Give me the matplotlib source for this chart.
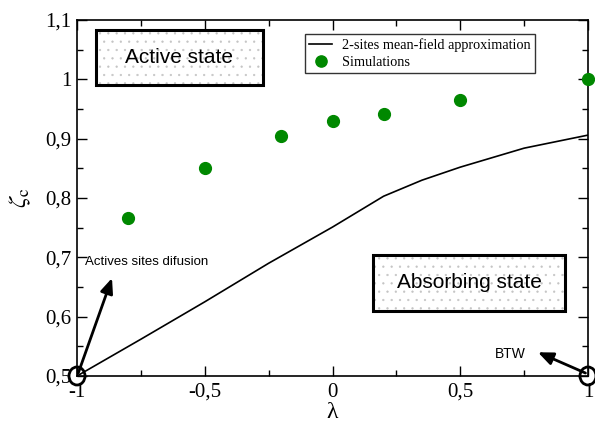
import matplotlib
matplotlib.use("Agg")
import matplotlib.pyplot as plt
from matplotlib.ticker import MultipleLocator, FuncFormatter
from matplotlib.patches import Ellipse, Rectangle

# data
mf_lambda = [-1.0, -0.75, -0.5, -0.25, 0.0, 0.2, 0.35, 0.5, 0.75, 1.0]
mf_zeta = [0.50, 0.562, 0.625, 0.690, 0.751, 0.803, 0.830, 0.852, 0.884, 0.906]
sim_lambda = [-0.8, -0.5, -0.2, 0.0, 0.2, 0.5, 1.0]
sim_zeta = [0.766, 0.851, 0.905, 0.930, 0.942, 0.965, 1.0]

plt.rcParams["mathtext.fontset"] = "stix"
plt.rcParams["hatch.linewidth"] = 0.4

serif = ["Liberation Serif", "DejaVu Serif"]
sans = ["Liberation Sans", "DejaVu Sans"]

fig = plt.figure(figsize=(5.95, 4.25), dpi=100)
ax = fig.add_axes([77/595, 1-376/425, (588-77)/595, (376-20)/425])

ax.plot(mf_lambda, mf_zeta, color="black", lw=1.2, label="2-sites mean-field approximation")
ax.plot(sim_lambda, sim_zeta, "o", color="#008800", ms=8.5, clip_on=False, label="Simulations", zorder=4)

ax.set_xlim(-1, 1)
ax.set_ylim(0.5, 1.1)
ax.xaxis.set_major_locator(MultipleLocator(0.5))
ax.xaxis.set_minor_locator(MultipleLocator(0.25))
ax.yaxis.set_major_locator(MultipleLocator(0.1))
ax.yaxis.set_minor_locator(MultipleLocator(0.05))

def fmt(v, pos):
    s = ("%.2f" % v).rstrip("0").rstrip(".")
    if s == "-0":
        s = "0"
    return s.replace(".", ",")
ax.xaxis.set_major_formatter(FuncFormatter(fmt))
ax.yaxis.set_major_formatter(FuncFormatter(fmt))

ax.tick_params(which="both", direction="in", top=True, right=True, width=1)
ax.tick_params(which="major", length=7, labelsize=15)
ax.tick_params(axis="x", which="major", pad=5)
ax.tick_params(axis="y", which="major", pad=4)
ax.tick_params(which="minor", length=4)
for lab in ax.get_xticklabels() + ax.get_yticklabels():
    lab.set_family(serif)
for sp in ax.spines.values():
    sp.set_linewidth(1.2)

ax.set_xlabel("λ", fontsize=17, family=serif, labelpad=0)
ax.set_ylabel(r"$\zeta_\mathrm{c}$", fontsize=18, labelpad=9)

leg = ax.legend(loc="upper left", bbox_to_anchor=((305-77)/511, (376-34)/356),
                prop={"family": serif, "size": 10.3}, frameon=True, fancybox=False,
                edgecolor="black", handlelength=1.6, borderpad=0.3, labelspacing=0.25,
                handletextpad=0.7, markerscale=0.95, borderaxespad=0)
leg.get_frame().set_linewidth(1.0)

def state_box(x0, x1, y0, y1, label):
    ax.add_patch(Rectangle((x0, y0), x1 - x0, y1 - y0, facecolor="white",
                           edgecolor="#c4c4c4", lw=0, hatch="..", zorder=5, clip_on=False))
    ax.add_patch(Rectangle((x0, y0), x1 - x0, y1 - y0, facecolor="none",
                           edgecolor="black", lw=2.2, zorder=6, clip_on=False))
    ax.text((x0 + x1) / 2, (y0 + y1) / 2, label, fontsize=15, family=sans,
            ha="center", va="center", zorder=7)

state_box(-0.926, -0.272, 0.990, 1.083, "Active state")
state_box(0.159, 0.910, 0.610, 0.704, "Absorbing state")

ax.annotate("", xy=(-0.863, 0.665), xytext=(-0.995, 0.505),
            arrowprops=dict(arrowstyle="-|>,head_length=0.9,head_width=0.38", color="black", lw=2,
                            shrinkA=0, shrinkB=0),
            annotation_clip=False)
ax.text(-0.969, 0.692, "Actives sites difusion", fontsize=9.5, family=sans, ha="left", va="center")

ax.annotate("", xy=(0.804, 0.540), xytext=(0.99, 0.505),
            arrowprops=dict(arrowstyle="-|>,head_length=0.9,head_width=0.38", color="black", lw=2,
                            shrinkA=0, shrinkB=0),
            annotation_clip=False)
ax.text(0.636, 0.537, "BTW", fontsize=10, family=sans, ha="left", va="center")

for xc in (-1, 1):
    e = Ellipse((xc, 0.5), width=16/255.5, height=18/593.3, facecolor="none",
                edgecolor="black", lw=2, clip_on=False, zorder=8)
    ax.add_patch(e)

fig.savefig("out.png", dpi=100)
